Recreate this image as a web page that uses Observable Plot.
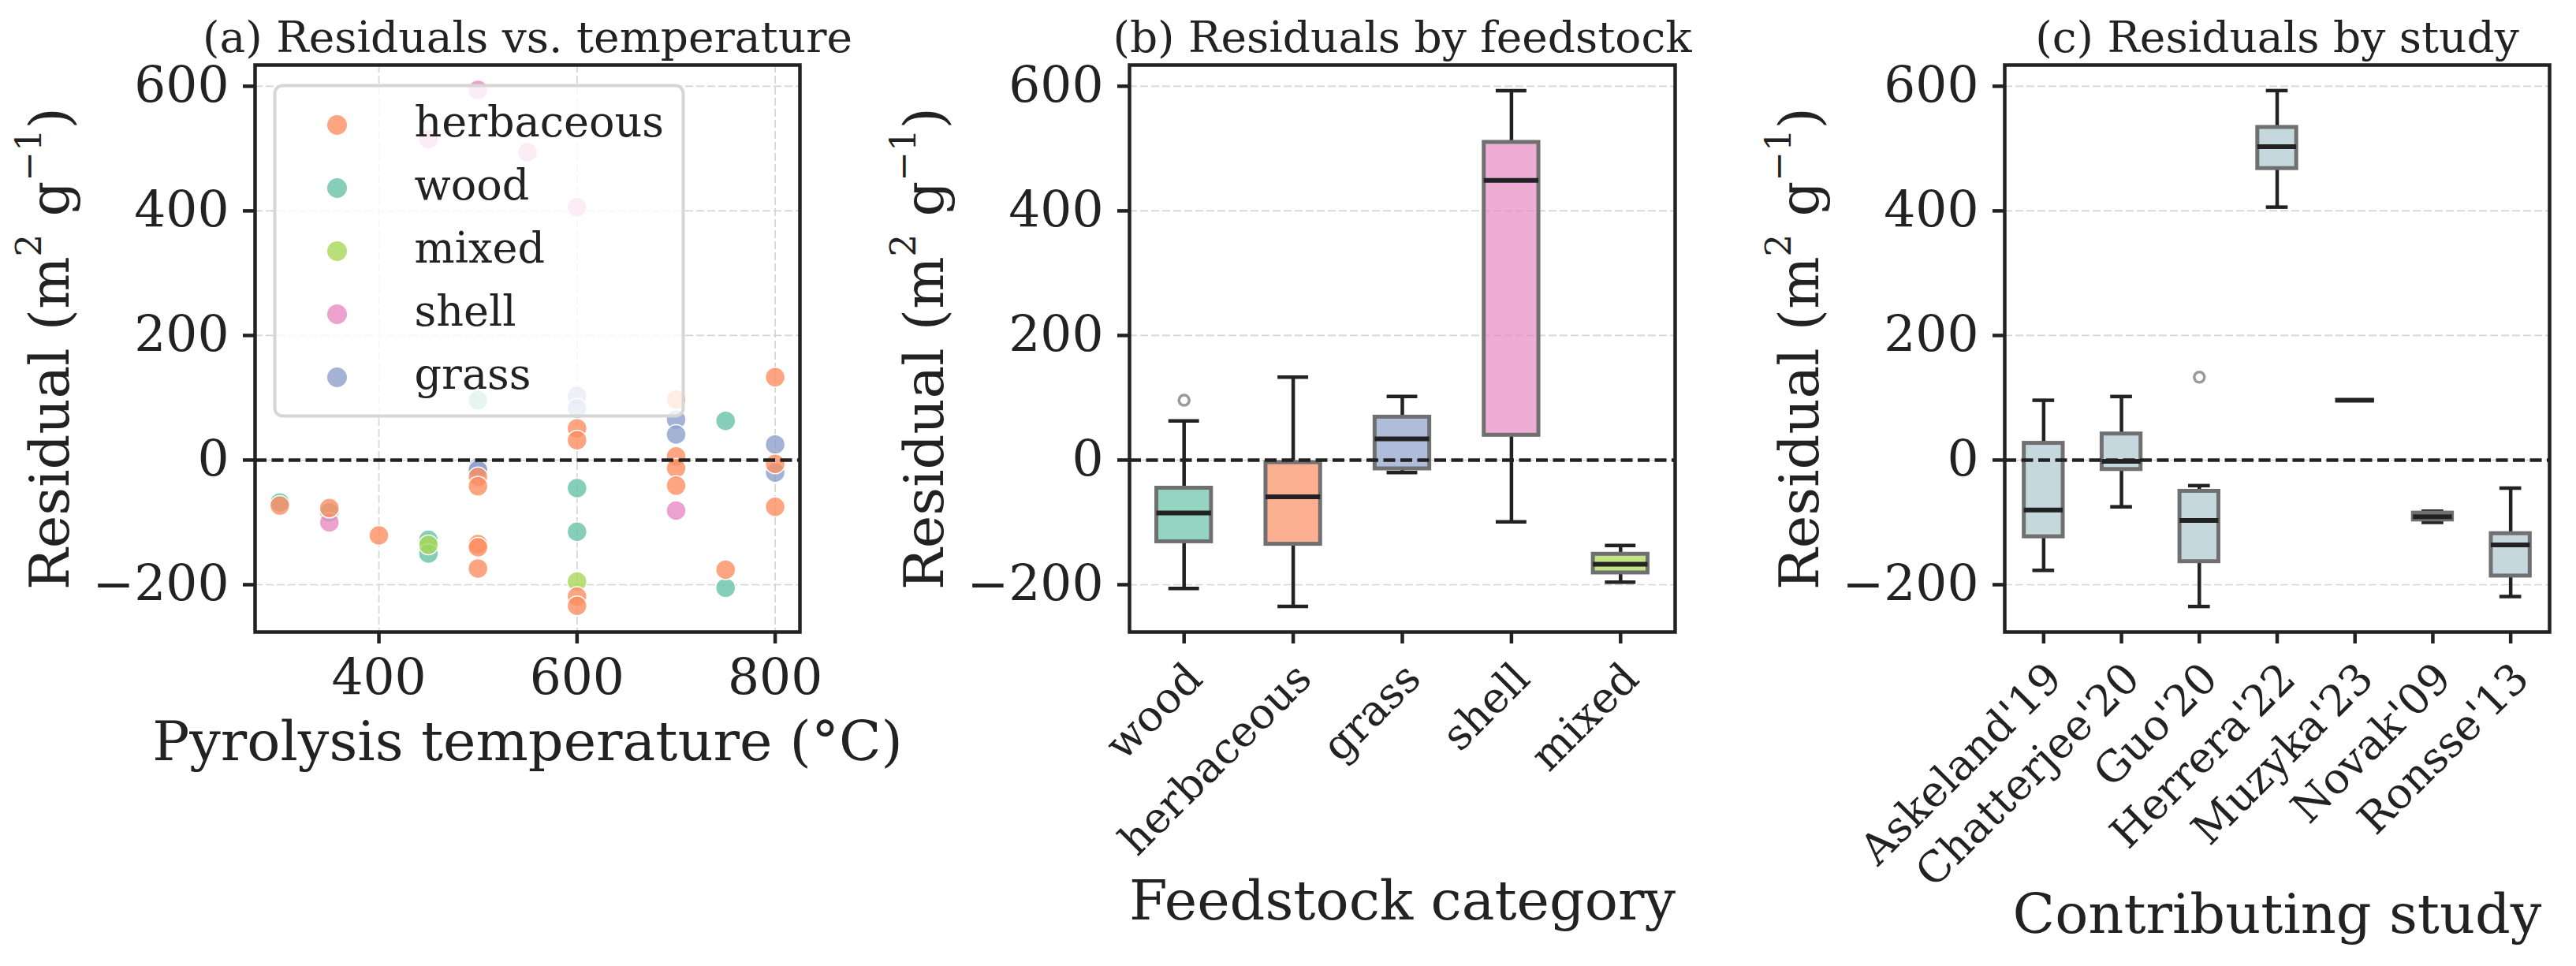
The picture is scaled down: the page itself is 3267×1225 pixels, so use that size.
<!DOCTYPE html>
<html><head><meta charset="utf-8">
<script src="https://cdn.jsdelivr.net/npm/d3@7"></script>
<script src="https://cdn.jsdelivr.net/npm/@observablehq/plot@0.6"></script>
<style>
html,body{margin:0;padding:0;background:#fff;}
#fig{position:relative;width:3267px;height:1225px;background:#fff;overflow:hidden;}
#fig svg{position:absolute;top:0;}
</style></head><body><div id="fig"></div>
<script>
// ---------- data: panel (a) scatter ----------
const feedstockLegend = ["herbaceous", "wood", "mixed", "shell", "grass"];
const feedstockColors = ["#fc8d62", "#66c2a5", "#a6d854", "#e78ac3", "#8da0cb"];

const pointFeedstock = [
  "wood","wood","wood","wood","wood","wood","wood","wood","wood",
  "grass","grass","grass","grass","grass","grass","grass","grass",
  "mixed","mixed",
  "shell","shell","shell","shell","shell","shell",
  "herbaceous","herbaceous","herbaceous","herbaceous","herbaceous","herbaceous","herbaceous","herbaceous","herbaceous","herbaceous",
  "herbaceous","herbaceous","herbaceous","herbaceous","herbaceous","herbaceous","herbaceous","herbaceous","herbaceous","herbaceous"
];
const pointTemp = [
  300,350,450,450,500,600,600,750,750,
  500,500,600,600,700,700,800,800,
  450,600,
  350,450,500,550,600,700,
  300,350,400,500,500,500,500,500,600,600,
  600,600,700,700,700,700,750,800,800,800
];
const pointResidual = [
  -68,-84,-128,-150,96,-45,-115,63,-205,
  -12,-16,103,83,65,41,25,-20,
  -136,-195,
  -100,515,594,494,406,-81,
  -73,-77,-121,-27,-42,-135,-140,-174,51,32,
  -219,-234,97,6,-13,-41,-176,133,-6,-75
];

const tempTicks = [400, 600, 800];
const residualTicks = [-200, 0, 200, 400, 600];

// ---------- data: panel (b) box plots by feedstock ----------
const feedstockOrder = ["wood", "herbaceous", "grass", "shell", "mixed"];
const feedWhiskerLow  = [-206, -235, -20, -99, -196];
const feedQ1          = [-131, -135, -14, 40, -181];
const feedMedian      = [-85, -59, 34, 449, -167];
const feedQ3          = [-45, -4, 69, 510, -151];
const feedWhiskerHigh = [63, 133, 102, 593, -137];
const feedOutlierCat  = ["wood"];
const feedOutlierVal  = [96];

// ---------- data: panel (c) box plots by study ----------
const studyOrder = ["Askeland'19", "Chatterjee'20", "Guo'20", "Herrera'22", "Muzyka'23", "Novak'09", "Ronsse'13"];
const studyWhiskerLow  = [-177, -75, -235, 406, 96, -100, -219];
const studyQ1          = [-123, -15, -163, 468, 96, -96, -186];
const studyMedian      = [-80, -2, -97, 503, 96, -91, -136];
const studyQ3          = [27, 42, -50, 534, 96, -85, -118];
const studyWhiskerHigh = [96, 102, -41, 593, 96, -82, -45];
const studyOutlierCat  = ["Guo'20"];
const studyOutlierVal  = [133];

// ---------- texts ----------
const titles = ["(a) Residuals vs. temperature", "(b) Residuals by feedstock", "(c) Residuals by study"];
const yLabel = "Residual (m² g⁻¹)";
const xLabels = ["Pyrolysis temperature (°C)", "Feedstock category", "Contributing study"];

// ---------- build ----------
const points = pointTemp.map((t, i) => ({temp: t, res: pointResidual[i], feed: pointFeedstock[i]}));
const feedBoxes = feedstockOrder.map((c, i) => ({cat: c, lo: feedWhiskerLow[i], q1: feedQ1[i], med: feedMedian[i], q3: feedQ3[i], hi: feedWhiskerHigh[i]}));
const feedOut = feedOutlierCat.map((c, i) => ({cat: c, v: feedOutlierVal[i]}));
const studyBoxes = studyOrder.map((c, i) => ({cat: c, lo: studyWhiskerLow[i], q1: studyQ1[i], med: studyMedian[i], q3: studyQ3[i], hi: studyWhiskerHigh[i]}));
const studyOut = studyOutlierCat.map((c, i) => ({cat: c, v: studyOutlierVal[i]}));

const yDomain = [-276, 634];
const INK = "#222";
const FONT = "'DejaVu Serif', serif";
const H = 1225, MT = 82, MB = 1225 - 801;
const style = {fontFamily: FONT, fontSize: "62px", color: INK, background: "transparent", overflow: "visible"};
const fmt = d3.format("d");

const gridStyle = {stroke: "#d4d4d4", strokeOpacity: 1, strokeWidth: 1.6, strokeDasharray: "10,4"};
const zeroLine = () => Plot.ruleY([0], {stroke: INK, strokeWidth: 4.5, strokeDasharray: "15,6.5"});
const yAxis = () => Plot.axisY(residualTicks, {tickSize: 15, tickPadding: 18, strokeWidth: 4.5, fontSize: 63, tickFormat: fmt, label: null});
const frame = () => Plot.frame({stroke: INK, strokeWidth: 4.5});
const titleMark = (t) => Plot.text([t], {frameAnchor: "top", dy: -17, lineAnchor: "bottom", fontSize: 55});
const yLabelMark = () => Plot.text([yLabel], {frameAnchor: "left", dx: -237, rotate: -90, lineAnchor: "bottom", textAnchor: "middle", fontSize: 70});
const xLabelMark = (t, dy) => Plot.text([t], {frameAnchor: "bottom", dy, lineAnchor: "bottom", fontSize: 70});

function boxMarks(boxes, outliers, bw, fillOpt) {
  const boxInset = bw * 0.25, capInset = bw * 0.36;
  return [
    Plot.ruleX(boxes, {x: "cat", y1: "q3", y2: "hi", stroke: INK, strokeWidth: 4.5}),
    Plot.ruleX(boxes, {x: "cat", y1: "lo", y2: "q1", stroke: INK, strokeWidth: 4.5}),
    Plot.tickY(boxes, {x: "cat", y: "hi", stroke: INK, strokeWidth: 4.5, insetLeft: capInset, insetRight: capInset}),
    Plot.tickY(boxes, {x: "cat", y: "lo", stroke: INK, strokeWidth: 4.5, insetLeft: capInset, insetRight: capInset}),
    Plot.barY(boxes, {x: "cat", y1: "q1", y2: "q3", ...fillOpt, stroke: "#707070", strokeWidth: 5, insetLeft: boxInset, insetRight: boxInset}),
    zeroLine(),
    Plot.tickY(boxes, {x: "cat", y: "med", stroke: INK, strokeWidth: 6, insetLeft: boxInset, insetRight: boxInset}),
    Plot.dot(outliers, {x: "cat", y: "v", r: 6.5, stroke: "#9a9a9a", strokeWidth: 3.5, fill: "none"})
  ];
}

function rotatedLabels(cats) {
  return Plot.text(cats, {x: d => d, frameAnchor: "bottom", dx: 26, dy: 62, rotate: -45, textAnchor: "end", lineAnchor: "bottom", fontSize: 54});
}

// Panel (a)
const legendMarks = [
  Plot.frame({fill: "white", fillOpacity: 0.8, stroke: "#d6d6d6", strokeWidth: 4, rx: 10, insetLeft: 25, insetRight: 148, insetTop: 26, insetBottom: 274})
];
feedstockLegend.forEach((c, i) => {
  legendMarks.push(Plot.dot([c], {frameAnchor: "top-left", dx: 104, dy: 76 + 80 * i, r: 12.5, fill: d => d, fillOpacity: 0.8}));
  legendMarks.push(Plot.text([c], {frameAnchor: "top-left", dx: 202, dy: 90 + 80 * i, textAnchor: "start", lineAnchor: "bottom", fontSize: 54}));
});

const plotA = Plot.plot({
  width: 1100, height: H, marginLeft: 323, marginRight: 86, marginTop: MT, marginBottom: MB,
  style,
  x: {domain: [275, 825], label: null},
  y: {domain: yDomain, label: null},
  color: {domain: feedstockLegend, range: feedstockColors},
  marks: [
    Plot.gridX(tempTicks, gridStyle),
    Plot.gridY(residualTicks, gridStyle),
    Plot.dot(points, {x: "temp", y: "res", fill: "feed", fillOpacity: 0.8, stroke: "white", strokeWidth: 1.5, r: 12.5}),
    zeroLine(),
    ...legendMarks,
    Plot.axisX(tempTicks, {tickSize: 15, tickPadding: 20, strokeWidth: 4.5, fontSize: 63, tickFormat: fmt, label: null}),
    yAxis(),
    frame(),
    titleMark(titles[0]),
    yLabelMark(),
    xLabelMark(xLabels[0], 162)
  ]
});

// Panel (b)
const bwB = 691 / 5;
const plotB = Plot.plot({
  width: 1100, height: H, marginLeft: 332, marginRight: 76, marginTop: MT, marginBottom: MB,
  style,
  x: {type: "band", domain: feedstockOrder, padding: 0, round: false, label: null},
  y: {domain: yDomain, label: null},
  color: {domain: feedstockLegend, range: feedstockColors},
  marks: [
    Plot.gridY(residualTicks, gridStyle),
    ...boxMarks(feedBoxes, feedOut, bwB, {fill: "cat", fillOpacity: 0.7}),
    Plot.axisX({tickSize: 15, strokeWidth: 4.5, tickFormat: () => "", label: null}),
    rotatedLabels(feedstockOrder),
    yAxis(),
    frame(),
    titleMark(titles[1]),
    yLabelMark(),
    xLabelMark(xLabels[1], 364)
  ]
});

// Panel (c)
const bwC = 691 / 7;
const plotC = Plot.plot({
  width: 1067, height: H, marginLeft: 342, marginRight: 34, marginTop: MT, marginBottom: MB,
  style,
  x: {type: "band", domain: studyOrder, padding: 0, round: false, label: null},
  y: {domain: yDomain, label: null},
  marks: [
    Plot.gridY(residualTicks, gridStyle),
    ...boxMarks(studyBoxes, studyOut, bwC, {fill: "#c4d8de"}),
    Plot.axisX({tickSize: 15, strokeWidth: 4.5, tickFormat: () => "", label: null}),
    rotatedLabels(studyOrder),
    yAxis(),
    frame(),
    titleMark(titles[2]),
    yLabelMark(),
    xLabelMark(xLabels[2], 381)
  ]
});

const fig = document.getElementById("fig");
[[plotA, 0], [plotB, 1100], [plotC, 2200]].forEach(([svg, left]) => {
  svg.style.left = left + "px";
  fig.appendChild(svg);
  // typeset the unit with raised superscripts
  d3.select(svg).selectAll("text").filter(function () { return this.textContent === yLabel; }).each(function () {
    const t = d3.select(this);
    t.text(null);
    t.append("tspan").text("Residual (m");
    t.append("tspan").attr("dy", -35).attr("font-size", 45).text("2");
    t.append("tspan").attr("dy", 35).text(" g");
    t.append("tspan").attr("dy", -35).attr("font-size", 45).text("−1");
    t.append("tspan").attr("dy", 35).text(")");
  });
});
</script>
</body></html>
